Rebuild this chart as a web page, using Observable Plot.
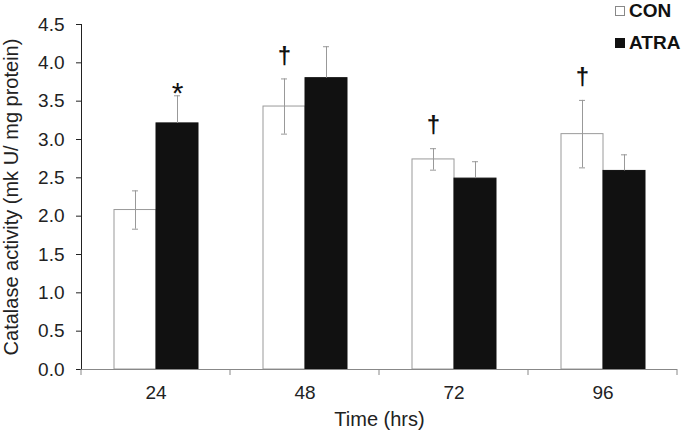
<!DOCTYPE html>
<html>
<head>
<meta charset="utf-8">
<script src="https://cdn.jsdelivr.net/npm/d3@7"></script>
<script src="https://cdn.jsdelivr.net/npm/@observablehq/plot@0.6"></script>
<style>
  html, body { margin: 0; padding: 0; background: #fff; }
  #wrap { position: relative; width: 683px; height: 431px; font-family: "Liberation Sans", Arial, sans-serif; }
  #chart { position: absolute; left: 0; top: 0; }
  #legend { position: absolute; left: 615px; top: -5px; font-weight: bold; font-size: 19px; color: #111; z-index: 2; }
  #legend .item { display: flex; align-items: center; height: 32px; line-height: 32px; }
  #legend .sw { width: 10px; height: 10px; margin-right: 4px; box-sizing: border-box; }
  svg g[aria-label="y-axis tick"], svg g[aria-label="y-axis line"], svg g[aria-label="fx-axis tick"] { stroke: #888; }
  svg g[aria-label="y-axis label"], svg g[aria-label="fx-axis label"] { font-size: 20px; }
</style>
</head>
<body>
<div id="wrap">
  <div id="chart"></div>
  <div id="legend"></div>
</div>
<script>
const times = ["24", "48", "72", "96"];
const groups = ["CON", "ATRA"];
const conMean = [2.08, 3.43, 2.74, 3.07];
const conErr = [0.25, 0.36, 0.14, 0.44];
const atraMean = [3.21, 3.80, 2.49, 2.59];
const atraErr = [0.36, 0.41, 0.22, 0.21];
const conMark = ["", "\u2020", "\u2020", "\u2020"];
const atraMark = ["*", "", "", ""];
const yTicks = [0, 0.5, 1, 1.5, 2, 2.5, 3, 3.5, 4, 4.5];
const yLabel = "Catalase activity (mk U/ mg protein)";
const xLabel = "Time (hrs)";

const rows = [];
times.forEach((t, i) => {
  rows.push({time: t, group: "CON", value: conMean[i], err: conErr[i], mark: conMark[i]});
  rows.push({time: t, group: "ATRA", value: atraMean[i], err: atraErr[i], mark: atraMark[i]});
});
const isCon = d => d.group === "CON";
const isAtra = d => d.group === "ATRA";

const chart = Plot.plot({
  width: 683,
  height: 431,
  marginLeft: 80,
  marginRight: 6,
  marginTop: 24,
  marginBottom: 62,
  style: {fontFamily: "'Liberation Sans', Arial, sans-serif", fontSize: "19px", color: "#222", background: "white"},
  facet: {data: rows, x: "time"},
  fx: {domain: times, padding: 0, axis: "bottom", tickSize: 0, tickPadding: 16, label: xLabel, labelAnchor: "center", labelOffset: 56, labelArrow: "none"},
  x: {domain: groups, paddingInner: 0, paddingOuter: 0.756, axis: null},
  y: {domain: [0, 4.5], ticks: yTicks, tickFormat: d3.format(".1f"), tickSize: 5, tickPadding: 12, line: true,
      label: yLabel, labelAnchor: "center", labelOffset: 78, labelArrow: "none"},
  marks: [
    Plot.barY(rows, {filter: isCon, x: "group", y: "value", fill: "white", stroke: "#9a9a9a", strokeWidth: 1}),
    Plot.barY(rows, {filter: isAtra, x: "group", y: "value", fill: "#111", stroke: "#111"}),
    Plot.ruleX(rows, {filter: isCon, x: "group", y1: d => d.value - d.err, y2: d => d.value + d.err, stroke: "#999"}),
    Plot.tickY(rows, {filter: isCon, x: "group", y: d => d.value - d.err, stroke: "#999", insetLeft: 18, insetRight: 18}),
    Plot.tickY(rows, {filter: isCon, x: "group", y: d => d.value + d.err, stroke: "#999", insetLeft: 18, insetRight: 18}),
    Plot.ruleX(rows, {filter: isAtra, x: "group", y1: "value", y2: d => d.value + d.err, stroke: "#999"}),
    Plot.tickY(rows, {filter: isAtra, x: "group", y: d => d.value + d.err, stroke: "#999", insetLeft: 18, insetRight: 18}),
    Plot.text(rows, {filter: d => d.mark === "\u2020", x: "group", y: d => d.value + d.err, text: "mark", dy: -23, fontSize: 24, fontWeight: "bold", fill: "#111"}),
    Plot.text(rows, {filter: d => d.mark === "*", x: "group", y: d => d.value + d.err, text: "mark", dy: -2, fontSize: 30, fill: "#111"}),
    Plot.ruleY([0], {stroke: "#888"})
  ]
});
document.getElementById("chart").appendChild(chart);

// category boundary ticks on the time axis, placed from Plot's own fx/y scales
const fx = chart.scale("fx");
const ys = chart.scale("y");
const y0 = ys.apply(0);
const edges = fx.domain.map(d => fx.apply(d));
edges.push(fx.apply(fx.domain[fx.domain.length - 1]) + fx.bandwidth);
d3.select(chart).append("g").attr("aria-label", "fx boundary ticks")
  .selectAll("line").data(edges).join("line")
  .attr("x1", d => d).attr("x2", d => d)
  .attr("y1", y0).attr("y2", y0 + 6)
  .attr("stroke", "#888");

// legend
const legendColors = {CON: ["white", "#888"], ATRA: ["#111", "#111"]};
const legend = d3.select("#legend");
groups.forEach(g => {
  const it = legend.append("div").attr("class", "item");
  it.append("div").attr("class", "sw")
    .style("background", legendColors[g][0])
    .style("border", "1px solid " + legendColors[g][1]);
  it.append("span").text(g);
});
</script>
</body>
</html>
